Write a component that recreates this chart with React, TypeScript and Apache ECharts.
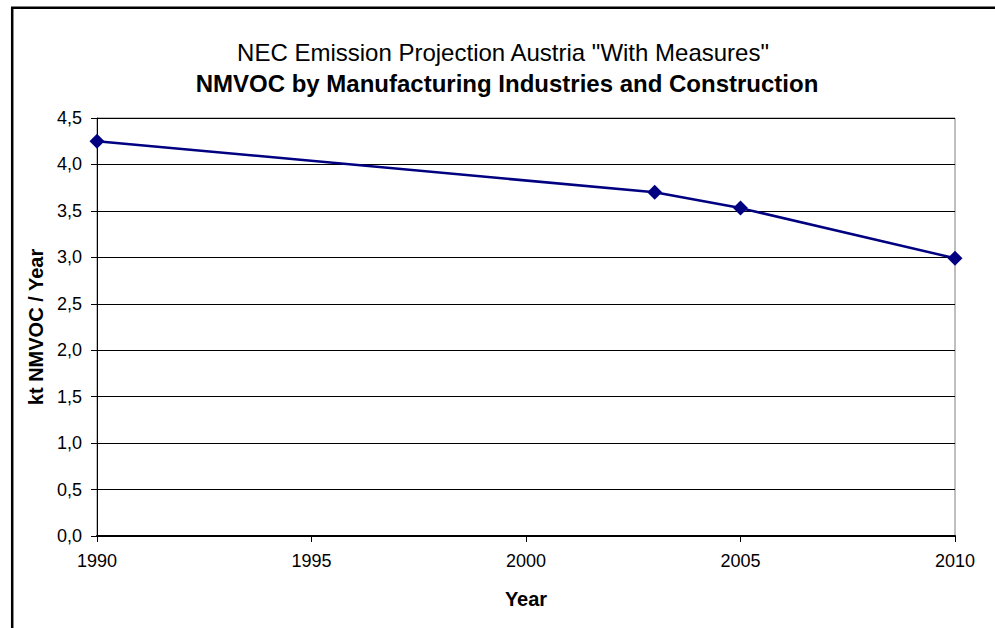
import React, { useEffect, useRef } from "react";
import * as echarts from "echarts";

// NMVOC emissions, manufacturing industries and construction (kt per year)
const years: number[] = [1990, 2003, 2005, 2010];
const emissions: number[] = [4.25, 3.7, 3.53, 2.99];

const titleLine1 = 'NEC Emission Projection Austria "With Measures"';
const titleLine2 = "NMVOC by Manufacturing Industries and Construction";
const xAxisName = "Year";
const yAxisName = "kt NMVOC / Year";

const FONT = "'Liberation Sans', Arial, sans-serif";

export default function App() {
  const ref = useRef<HTMLDivElement>(null);

  useEffect(() => {
    document.body.style.margin = "0";
    const chart = echarts.init(ref.current!, null, { renderer: "svg" });
    chart.setOption({
      animation: false,
      backgroundColor: "#ffffff",
      textStyle: { fontFamily: FONT },
      graphic: [
        {
          type: "rect",
          shape: { x: 12.2, y: 7.8, width: 1100, height: 800 },
          style: { fill: "none", stroke: "#000", lineWidth: 2.5 },
          silent: true,
        },
        {
          type: "text",
          x: 503,
          y: 52.5,
          style: {
            text: titleLine1,
            fontFamily: FONT,
            fontSize: 24,
            fill: "#000",
            align: "center",
            verticalAlign: "middle",
          },
        },
        {
          type: "text",
          x: 507,
          y: 83.5,
          style: {
            text: titleLine2,
            fontFamily: FONT,
            fontSize: 24,
            fontWeight: "bold",
            fill: "#000",
            align: "center",
            verticalAlign: "middle",
          },
        },
      ],
      grid: {
        left: 97,
        top: 118,
        right: 40,
        bottom: 92,
        show: true,
        borderColor: "#808080",
        borderWidth: 1,
        backgroundColor: "transparent",
      },
      xAxis: {
        type: "value",
        min: 1990,
        max: 2010,
        interval: 5,
        name: xAxisName,
        nameLocation: "middle",
        nameGap: 53,
        nameTextStyle: { fontFamily: FONT, fontSize: 20, fontWeight: "bold", color: "#000" },
        axisLine: { show: true, lineStyle: { color: "#000", width: 2 } },
        axisTick: { show: true, length: 6, lineStyle: { color: "#000" } },
        axisLabel: {
          fontFamily: FONT,
          fontSize: 18,
          color: "#000",
          margin: 16,
          formatter: (v: number) => String(v),
        },
        splitLine: { show: false },
      },
      yAxis: {
        type: "value",
        min: 0,
        max: 4.5,
        interval: 0.5,
        name: yAxisName,
        nameLocation: "middle",
        nameGap: 46,
        nameTextStyle: { fontFamily: FONT, fontSize: 20, fontWeight: "bold", color: "#000" },
        axisLine: { show: true, lineStyle: { color: "#000", width: 1 } },
        axisTick: { show: true, length: 6, lineStyle: { color: "#000" } },
        axisLabel: {
          fontFamily: FONT,
          fontSize: 18,
          color: "#000",
          margin: 15,
          formatter: (v: number) => v.toFixed(1).replace(".", ","),
        },
        splitLine: { show: true, lineStyle: { color: "#000", width: 1 } },
      },
      series: [
        {
          type: "line",
          data: years.map((y, i) => [y, emissions[i]]),
          symbol: "diamond",
          symbolSize: 15,
          lineStyle: { color: "#000080", width: 2.5 },
          itemStyle: { color: "#000080" },
        },
      ],
    });
    return () => chart.dispose();
  }, []);

  return (
    <div
      ref={ref}
      style={{ position: "absolute", left: 0, top: 0, width: 995, height: 628 }}
    />
  );
}
